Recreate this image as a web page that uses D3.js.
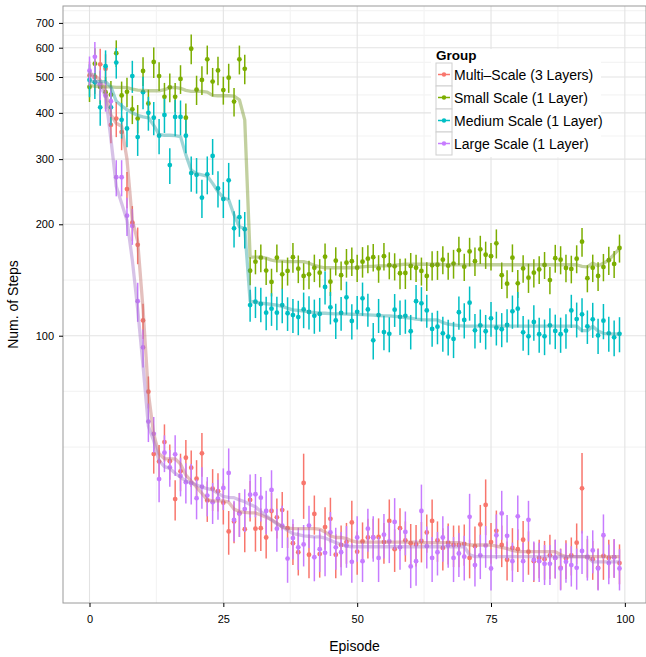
<!DOCTYPE html>
<html><head><meta charset="utf-8">
<script src="https://cdn.jsdelivr.net/npm/d3@7"></script>
<style>
body{margin:0;background:#fff}
svg{display:block}
text{font-family:"Liberation Sans",Arial,Helvetica,sans-serif}
</style>
</head><body>
<svg id="chart" width="646" height="657"></svg>
<script>
// ---------------- data ----------------
const groups = ["Multi\u2013Scale (3 Layers)", "Small Scale (1 Layer)", "Medium Scale (1 Layer)", "Large Scale (1 Layer)"];
const colors = ["#F8766D", "#7CAE00", "#00BFC4", "#C77CFF"];
const xTicks = [0, 25, 50, 75, 100];
const xMinor = [12.5, 37.5, 62.5, 87.5];
const yTicks = [100, 200, 300, 400, 500, 600, 700];
const yMinor = [50, 70.7, 141.4, 244.9, 346.4, 447.2, 547.7, 648.1, 756.1];

const multiVal = [505,500,541,526,371,386,355,249,202,176,110,70.6,47.9,45.7,51.6,45.8,36.2,43,46.8,44,
41.1,48.1,35.9,38.6,38,35.4,29.6,31.5,33.1,30,36,30.1,30.2,28.5,33.6,32.3,33.8,30.2,27.5,26,
40,25.6,33,25.7,30.4,32,25.6,27.2,27.7,31.3,26.1,27.8,28.5,28.5,28.6,27.7,31.6,26.5,30.2,28,
27.5,27.3,27.9,29.4,31.6,28,26.7,27.6,27.2,27.2,27.4,25.1,27,30.9,34.9,27.7,29.7,27.2,24.8,26.7,
26.5,28.1,26.1,24.6,25.1,24.9,25.5,25.1,23.6,25,25.5,27.6,38.7,25.2,24.9,23.6,25.4,25.1,25.2,24.3];
const multiErr = [45,50,55,50,40,42,38,28,22,20,12,7,5.5,5,6,5,4.5,5,5.5,5,
5,6.5,4.5,5,4.5,4.5,4,4,4.5,4,4.5,4,4,3.5,4,4,4,3.5,3.5,3.5,
8,3.5,4,3.5,4,4.5,3.5,3.5,3.5,4.5,3.5,3.5,3.5,3.5,3.5,3.5,4.5,3.5,4,3.5,
3.5,3.5,3.5,3.5,4.5,3.5,3.5,3.5,3.5,3.5,3.5,3,3.5,4,6,3.5,4,3.5,3,3.5,
3.5,3.5,3.5,3,3,3,3.5,3,3,3,3,3.5,9.5,3,3,3,3.5,3,3,3];
const multiLine = [510,505,490,455,395,375,368,300,205,180,118,70,54,48,46.5,46.5,46.5,45,42,40.5,
39,37.5,36,35.8,35.8,35.8,35.5,34,33.5,33.3,33.2,33.2,32.8,32.3,31.8,31.2,30.4,30.2,30.1,30.1,
30.1,30.1,30.1,30,29.5,28.8,28.5,28.5,28.3,27.9,27.7,27.7,27.7,27.7,27.7,27.7,27.7,27.7,27.7,27.7,
27.7,27.7,27.6,27.6,27.6,27.6,27.6,27.6,27.6,27.6,27.4,27.2,27.2,27.2,27.2,27.2,27,26.8,26.6,26.3,
26.1,26.1,26.1,26.1,26.1,26.1,26.1,26.1,25.6,25.3,25.3,25.3,25.3,25.3,25.3,25.3,25.3,25.3,25.3,25.3];

const smallVal = [470,543,470,455,448,580,446,456,409,386,519,424,549,503,442,469,442,494,388,596,
462,491,558,486,521,461,498,429,558,526,149.8,158.5,162.5,150,139.7,162.5,146.5,149.6,163,151.7,
145,146.5,152.6,148,163.5,140,159.5,145.7,157.5,159,152.6,158.5,161.5,163,152,164,155,154,147.5,147.7,
154.3,152.6,149.6,145,155,155.5,160.5,154.6,156.6,170.1,153.6,168.9,159,171.2,165.5,164,177.7,145.7,138.2,162.5,
138.5,152,143.5,148,151,155.3,141.4,162,160.5,152.4,151.5,161.5,179.5,143,152.6,145,153.3,160,156.3,172.6];
const smallErr = [42,55,48,45,40,48,40,42,36,34,46,38,52,45,40,42,40,44,36,55,
42,44,50,43,46,40,45,38,50,48,13,12,14,13,12,14,13,13,15,13,
12,13,13,13,14,12,14,13,14,14,13,15,14,14,13,14,13,13,14,14,
13,13,13,13,14,14,14,13,14,15,13,15,14,15,14,14,16,12,12,14,
12,13,13,13,13,13,12,14,14,13,13,14,16,12,13,13,13,14,13,15];
const smallLine = [475,472,471,470,470,469,469,468,464,461,460,459,459,459,462,468,469,466,460,457,
457,457,455,446,445,445,445,444,434,383,163,163,163,162,160,159,159,158.5,158.5,158.5,
158.5,157,155,153.5,152.6,152.6,152.6,152.6,152.6,152.6,153,153.5,154,154,154.5,154.5,154.6,155,155.5,156,
156,156,156,156,156,156,155.5,155.5,155.5,155.5,155.5,155.5,155.5,155.5,155.5,155.5,155.5,155.5,155.5,155.5,
155.5,155.5,155.5,155.5,155.5,155.5,155.5,155.5,155.5,155.5,155.5,155.5,154,153.5,157,154.5,157,160,166,172];

const mediumVal = [491,484,414,535,414,547,383,363,503,344,455,400,388,347,395,289,390,390,347,275,
272,236,273,306,250,234,263,195,209,194,121,123.6,121.8,115.4,118.3,115.4,121,115,113.7,112.3,
117.8,115.9,113.2,114.5,135.4,119.3,110,115.2,127,109.6,116,126.2,117.8,97.2,113.7,102.3,101.2,117.6,112.5,113.2,
102.8,124,122.3,117,104.3,105.8,101.5,99.4,98,115.7,110.3,122.8,103.4,106.7,102.8,111.4,105.1,104.1,106.9,116.4,
118.3,102.1,99.6,108.9,100.9,99.6,106.7,103,100.9,103.2,117,110.9,114.2,106,110.7,100.2,109.8,101.5,99,101.2];
const mediumErr = [50,48,45,55,44,52,42,40,50,38,46,42,40,38,42,32,44,42,36,30,
30,28,32,34,28,26,30,22,24,22,12,12,13,12,12,12,13,12,12,12,
13,12,12,12,14,12,12,12,13,12,12,13,12,11,12,11,11,12,12,12,
11,13,13,12,11,11,11,11,11,12,12,13,11,11,11,12,11,11,11,12,
13,11,11,12,11,11,12,11,11,11,12,12,12,11,12,11,12,11,11,11];
const mediumLine = [486,486,486,486,470,430,418,408,400,394,390,388,370,350,348,348,347,345,308,280,
274,272,270,258,245,236,233,212,197,195,124,123,122.5,122,121.5,121,120,118.6,117.5,117,
116.5,116,115.5,115,115,114.8,114.6,114.5,114.4,114.3,114.2,114,113.8,113.6,113.4,113.2,113.2,112.8,112.4,112,
111.5,110.8,110.5,110.4,110.3,110.3,108.5,107.5,107,106.5,106.2,106.2,106.2,106.2,106.2,106.2,106.2,106.2,106.2,106.2,
106.2,106.2,106.2,106.2,106.2,106.2,106.2,106.2,106.2,106.2,106.2,106.2,103.2,103.2,106,103,101.5,101.3,101.2,101];

const largeVal = [520,567,478,445,430,268,268,211,198,124,93,58.6,54.3,41,48.3,44.1,47.8,41.8,40.2,40,
36.4,39.1,37,35.5,36.3,38.8,42.6,31.8,33.1,34,37.2,37.3,36.5,33.6,38.3,30.1,30.7,25,28.4,26.8,
27.3,30.7,25.2,26.5,25.9,29.4,26.8,26,27.1,24.5,28.5,24.6,30.1,28.5,25.1,29,27.8,31.4,26.8,29.5,
23.8,24.6,33.6,27,25.1,26,28.5,27.1,25.1,25.8,25.3,32.4,24,25.5,27.1,23.5,28.9,33.1,28.8,24.6,
32.5,24.6,31.8,24.8,24.6,24.2,24.2,25.1,23.5,24.5,24,23.6,26.2,25.3,26.3,23.5,28.9,24.3,25.2,23.5];
const largeErr = [48,55,45,42,40,30,30,25,22,15,11,7,6,5.5,5.5,5,6,5,5,5,
4.5,5,4.5,4.5,4.5,5,7,4,4.5,4.5,5,5,5,4.5,5,4,4,3.5,3.5,3.5,
3.5,4,3.5,3.5,3.5,4,3.5,3.5,3.5,3,4,3,4,4,3.5,4,3.5,5,3.5,4,
3,3.5,6,3.5,3.5,3.5,4,3.5,3.5,3.5,3.5,5,3,3.5,3.5,3,4,5,4,3,
4.5,3,4,3,3,3,3,3,3,3,3,3,3.5,3.5,3.5,3,4,3,3,3];
const largeLine = [520,490,470,445,340,253,228,205,160,118,83,57,52,46,44.3,43.8,42.5,41.5,40.5,40,
39.5,39,38.6,38.3,37.5,36.8,36.6,36.5,36,35.6,35,34.5,33.5,32.6,31.8,31,30.5,29.8,29.2,29,
28.8,28.7,28.6,28.6,28.4,28,27.6,27.3,27,26.9,26.9,26.9,26.9,26.9,26.9,26.9,26.9,26.9,26.9,26.9,
26.9,26.9,26.9,26.9,26.9,26.9,26.9,26.9,26.9,26.9,26.9,25.6,25.3,25.3,25.3,25.3,25.3,25.3,25.3,25.3,
25.3,25.3,25.3,25.3,25.3,25.3,25.3,25.3,25.3,25.3,25.3,25.3,25.3,25.3,24.5,24.5,24.5,24.5,24.5,24.5];

// table built from the arrays
const seriesVals = [multiVal, smallVal, mediumVal, largeVal];
const seriesErrs = [multiErr, smallErr, mediumErr, largeErr];
const seriesLines = [multiLine, smallLine, mediumLine, largeLine];
const series = groups.map((g, i) => ({
  name: g, color: colors[i],
  pts: seriesVals[i].map((v, ep) => ({ep, v, e: seriesErrs[i][ep]})),
  line: seriesLines[i].map((v, ep) => ({ep, v}))
}));

// ---------------- layout ----------------
const L = 63, R = 646, T = 6, B = 603;
const svg = d3.select("#chart");
const x = d3.scaleLinear().domain([-4.95, 103.95]).range([L, R]);
const y = d3.scaleLog().domain([18.96, 777.7]).range([B, T]);

// grid
const grid = svg.append("g");
grid.selectAll(".ymin").data(yMinor).join("line")
  .attr("x1", L).attr("x2", R).attr("y1", d => y(d)).attr("y2", d => y(d))
  .attr("stroke", "#f4f4f4").attr("stroke-width", 1.2);
grid.selectAll(".xmin").data(xMinor).join("line")
  .attr("y1", T).attr("y2", B).attr("x1", d => x(d)).attr("x2", d => x(d))
  .attr("stroke", "#f4f4f4").attr("stroke-width", 1.2);
grid.selectAll(".ymaj").data(yTicks).join("line")
  .attr("x1", L).attr("x2", R).attr("y1", d => y(d)).attr("y2", d => y(d))
  .attr("stroke", "#e3e3e3").attr("stroke-width", 1.1);
grid.selectAll(".xmaj").data(xTicks).join("line")
  .attr("y1", T).attr("y2", B).attr("x1", d => x(d)).attr("x2", d => x(d))
  .attr("stroke", "#e3e3e3").attr("stroke-width", 1.1);

// data layers
const plot = svg.append("g");
series.forEach(s => {
  const g = plot.append("g");
  g.selectAll("line.eb").data(s.pts).join("line")
    .attr("x1", d => x(d.ep)).attr("x2", d => x(d.ep))
    .attr("y1", d => y(d.v - d.e)).attr("y2", d => y(d.v + d.e))
    .attr("stroke", s.color).attr("stroke-width", 1.5);
  g.selectAll("circle").data(s.pts).join("circle")
    .attr("cx", d => x(d.ep)).attr("cy", d => y(d.v)).attr("r", 2.4)
    .attr("fill", s.color);
});
const lineGen = d3.line().x(d => x(d.ep)).y(d => y(d.v));
series.forEach(s => {
  plot.append("path").datum(s.line)
    .attr("d", lineGen).attr("fill", "none")
    .attr("stroke", d3.interpolateRgb(s.color, "#707070")(0.38))
    .attr("stroke-opacity", 0.45).attr("stroke-width", 3.3)
    .attr("stroke-linejoin", "round");
});

// panel border
svg.append("rect").attr("x", L).attr("y", T).attr("width", R - L).attr("height", B - T)
  .attr("fill", "none").attr("stroke", "#9a9a9a").attr("stroke-width", 1);

// axes
const yAxis = svg.append("g").attr("transform", `translate(${L},0)`)
  .call(d3.axisLeft(y).tickValues(yTicks).tickFormat(d3.format("d")).tickSize(4).tickPadding(5));
const xAxis = svg.append("g").attr("transform", `translate(0,${B})`)
  .call(d3.axisBottom(x).tickValues(xTicks).tickFormat(d3.format("d")).tickSize(4).tickPadding(8));
[yAxis, xAxis].forEach(a => {
  a.select(".domain").remove();
  a.selectAll(".tick line").attr("stroke", "#000").attr("stroke-width", 1);
  a.selectAll(".tick text").attr("fill", "#000").style("font-size", "11px")
    .style("font-family", '"Liberation Sans",Arial,Helvetica,sans-serif');
});

// axis titles
svg.append("text").attr("x", (L + R) / 2).attr("y", 651).attr("text-anchor", "middle")
  .style("font-size", "14px").text("Episode");
svg.append("text").attr("transform", `translate(18,${(T + B) / 2}) rotate(-90)`)
  .attr("text-anchor", "middle").style("font-size", "14px").text("Num. of Steps");

// legend
const lg = svg.append("g");
lg.append("rect").attr("x", 431).attr("y", 49).attr("width", 170).attr("height", 108).attr("fill", "#fff");
lg.append("text").attr("x", 436).attr("y", 60).style("font-size", "13.5px").style("font-weight", "bold").text("Group");
series.forEach((s, i) => {
  const ky = 63 + i * 23;
  lg.append("rect").attr("x", 436).attr("y", ky).attr("width", 16).attr("height", 23)
    .attr("fill", "#fff").attr("stroke", "#cfcfcf").attr("stroke-width", 1);
  lg.append("line").attr("x1", 438).attr("x2", 450).attr("y1", ky + 11.5).attr("y2", ky + 11.5)
    .attr("stroke", s.color).attr("stroke-width", 1.5);
  lg.append("circle").attr("cx", 444).attr("cy", ky + 11.5).attr("r", 2.2).attr("fill", s.color);
  lg.append("text").attr("x", 454).attr("y", ky + 16.5).style("font-size", "14px").text(s.name);
});
</script>
</body></html>
